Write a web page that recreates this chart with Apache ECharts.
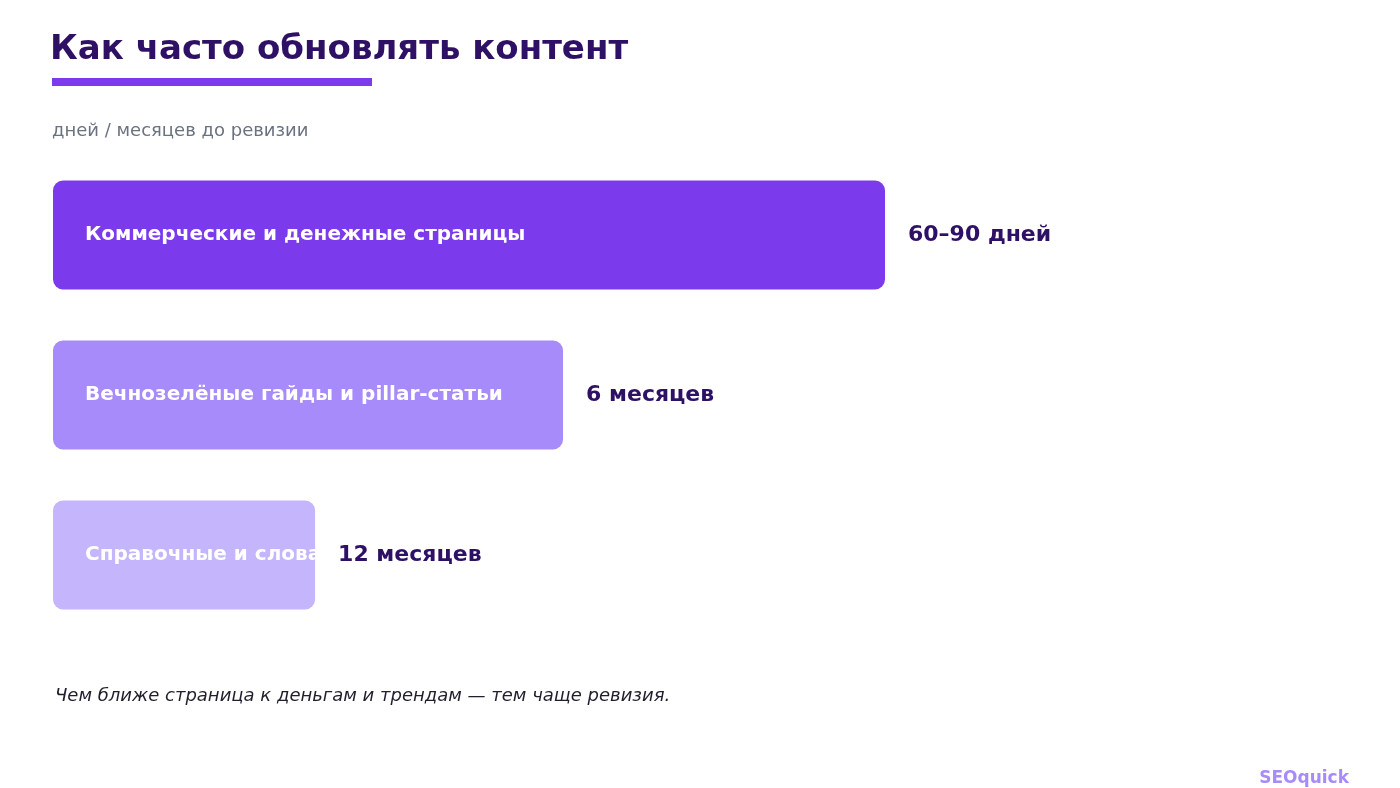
<!DOCTYPE html>
<html>
<head>
<meta charset="utf-8">
<script src="https://cdn.jsdelivr.net/npm/echarts@6/dist/echarts.min.js"></script>
<style>
  html, body { margin: 0; padding: 0; background: #fff; }
  #main { width: 1400px; height: 788px; }
</style>
</head>
<body>
<div id="main"></div>
<script>
// данные графика
var categories = ['Коммерческие и денежные страницы', 'Вечнозелёные гайды и pillar-статьи', 'Справочные и словарные страницы'];
var values = [100, 61.3, 31.5];
var valueLabels = ['60–90 дней', '6 месяцев', '12 месяцев'];
var colors = ['#7c3aed', '#a78bfa', '#c4b5fd'];

var myChart = echarts.init(document.getElementById('main'));
var font = '"DejaVu Sans", sans-serif';

var option = {
    backgroundColor: '#fff',
    animation: false,
    grid: { left: 53, top: 155, width: 832, height: 480 },
    xAxis: { type: 'value', min: 0, max: 100, show: false },
    yAxis: { type: 'category', data: categories, inverse: true, show: false },
    graphic: [
        { type: 'text', left: 50, top: 33, style: { text: 'Как часто обновлять контент', fill: '#2e1065', font: 'bold 34px ' + font } },
        { type: 'rect', shape: { x: 52, y: 78, width: 320, height: 8 }, style: { fill: '#7c3aed' } },
        { type: 'text', left: 52, top: 122, style: { text: 'дней / месяцев до ревизии', fill: '#6b7280', font: '18px ' + font } },
        { type: 'text', left: 55, top: 687, style: { text: 'Чем ближе страница к деньгам и трендам — тем чаще ревизия.', fill: '#1f1f2e', font: 'italic 18px ' + font } },
        { type: 'text', right: 51, top: 770, style: { text: 'SEOquick', fill: '#a78bfa', font: 'bold 17px ' + font } }
    ],
    series: [
        {
            type: 'bar',
            barWidth: 109,
            data: values.map(function (v, i) {
                return { value: v, itemStyle: { color: colors[i], borderRadius: 10 } };
            }),
            label: {
                show: true,
                position: 'insideLeft',
                distance: 32,
                formatter: function (p) { return categories[p.dataIndex]; },
                color: '#fff',
                fontFamily: font,
                fontWeight: 'bold',
                fontSize: 20
            },
            z: 2
        },
        {
            type: 'bar',
            barWidth: 109,
            barGap: '-100%',
            data: values,
            itemStyle: { color: 'transparent' },
            label: {
                show: true,
                position: 'right',
                distance: 23,
                formatter: function (p) { return valueLabels[p.dataIndex]; },
                color: '#2e1065',
                fontFamily: font,
                fontWeight: 'bold',
                fontSize: 22,
                backgroundColor: '#fff'
            },
            z: 3
        }
    ]
};

myChart.setOption(option);
</script>
</body>
</html>
